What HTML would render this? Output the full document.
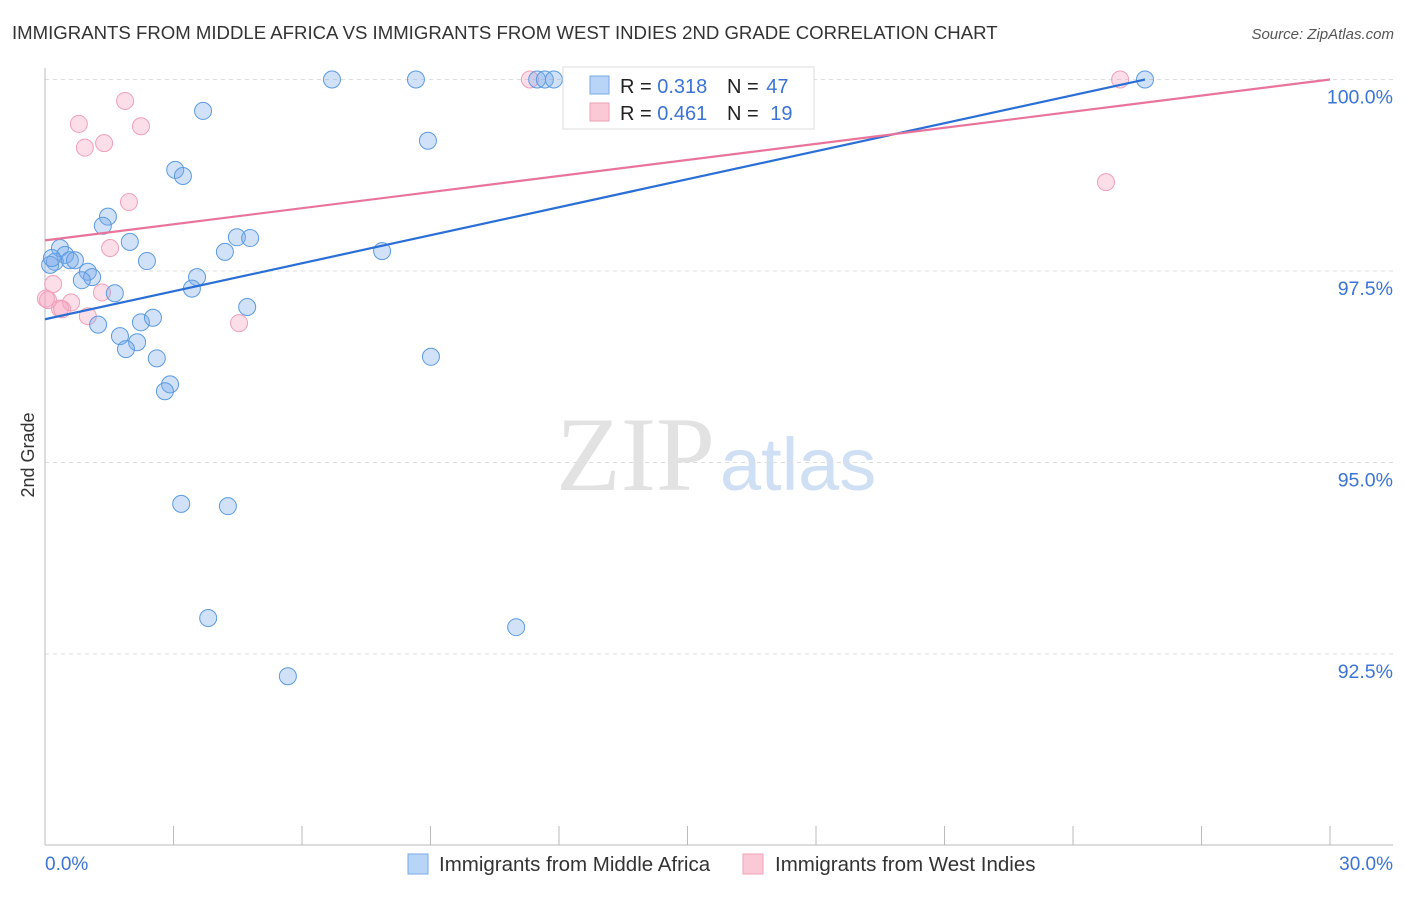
<!DOCTYPE html>
<html><head><meta charset="utf-8"><style>
body{margin:0;background:#fff;font-family:"Liberation Sans",sans-serif}
svg text{font-family:"Liberation Sans",sans-serif}
</style></head><body>
<svg id="chart" width="1406" height="892" xmlns="http://www.w3.org/2000/svg">
<text x="12" y="39" font-size="18.6" fill="#333">IMMIGRANTS FROM MIDDLE AFRICA VS IMMIGRANTS FROM WEST INDIES 2ND GRADE CORRELATION CHART</text>
<text x="1394" y="39" font-size="15" fill="#555" font-style="italic" text-anchor="end">Source: ZipAtlas.com</text>
<text x="715" y="490" font-size="106" fill="#e2e2e2" text-anchor="end" style="font-family:'Liberation Serif',serif">ZIP</text>
<text x="720" y="490" font-size="74" fill="#cfdff4">atlas</text>
<text transform="translate(34,455) rotate(-90)" font-size="18" fill="#333" text-anchor="middle">2nd Grade</text>
<g id="grid"></g><g id="axes"></g><g id="pts"></g><g id="lines"></g>
<g>
<rect x="563" y="67" width="251" height="62" fill="#fff" stroke="#ddd"/>
<rect x="590" y="76" width="19" height="18" fill="#b8d4f6" stroke="#7aaae8"/>
<rect x="590" y="103" width="19" height="18" fill="#fbc8d6" stroke="#f0a0b8"/>
<text x="620" y="93" font-size="20" fill="#222">R = <tspan fill="#3b74d4">0.318</tspan></text>
<text x="727" y="93" font-size="20" fill="#222">N = <tspan fill="#3b74d4" dx="2">47</tspan></text>
<text x="620" y="120" font-size="20" fill="#222">R = <tspan fill="#3b74d4">0.461</tspan></text>
<text x="727" y="120" font-size="20" fill="#222">N = <tspan fill="#3b74d4" dx="6">19</tspan></text>
</g>
<g>
<rect x="408" y="854" width="20" height="20" fill="#b8d4f6" stroke="#7aaae8"/>
<text x="439" y="871" font-size="20.5" fill="#333">Immigrants from Middle Africa</text>
<rect x="743" y="854" width="20" height="20" fill="#fbc8d6" stroke="#f0a0b8"/>
<text x="775" y="871" font-size="20.5" fill="#333">Immigrants from West Indies</text>
</g>
</svg>
<script>
const blueX=[6.70,8.66,11.49,11.67,11.88,25.68,3.69,8.94,3.04,3.22,1.47,1.35,1.98,4.48,4.79,4.20,7.87,2.38,0.35,0.47,0.23,0.58,0.70,0.12,0.16,1.00,1.10,0.86,3.55,3.43,1.63,4.72,1.24,2.24,2.52,1.75,2.15,1.89,2.61,9.01,2.92,2.80,3.18,4.27,3.81,11.00,5.67];
const blueY=[100,100,100,100,100,100,99.59,99.20,98.82,98.74,98.21,98.09,97.88,97.94,97.93,97.75,97.76,97.63,97.80,97.71,97.62,97.64,97.64,97.58,97.67,97.49,97.42,97.38,97.42,97.27,97.21,97.03,96.80,96.83,96.89,96.65,96.57,96.48,96.36,96.38,96.02,95.93,94.46,94.43,92.97,92.85,92.21];
const pinkX=[11.32,25.10,1.87,0.79,2.24,1.38,0.93,1.96,24.77,1.52,0.19,1.33,0.61,0.02,0.35,1.00,4.53,0.40,0.07];
const pinkY=[100,100,99.72,99.42,99.39,99.17,99.11,98.40,98.66,97.80,97.33,97.22,97.09,97.14,97.01,96.91,96.82,97.00,97.12];
const blueLine=[[0,96.87],[25.68,100]];
const pinkLine=[[0,97.90],[30,100]];
const yTicks=[100,97.5,95,92.5];
const yTickLabels=["100.0%","97.5%","95.0%","92.5%"];
const xTickLabels=["0.0%","30.0%"];
const NS="http://www.w3.org/2000/svg";
const sx=v=>45+v*1285/30;
const sy=v=>79.5+(100-v)*76.6;
function mk(tag,attrs,parent){const e=document.createElementNS(NS,tag);for(const k in attrs)e.setAttribute(k,attrs[k]);parent.appendChild(e);return e;}
const grid=document.getElementById('grid'),axes=document.getElementById('axes'),pts=document.getElementById('pts'),lines=document.getElementById('lines');
yTicks.forEach((t,i)=>{
 const l=mk('line',{x1:45,x2:1393,y1:sy(t),y2:sy(t),stroke:'#ddd','stroke-dasharray':'4,4'},grid);
 
 
 const tx=mk('text',{x:1393,y:sy(t)+24,'font-size':19.5,fill:'#3b74d4','text-anchor':'end'},grid);
 tx.textContent=yTickLabels[i];
 
 
});
const ya=mk('line',{x1:45,x2:45,y1:68,y2:845,stroke:'#bbb'},axes);


const xa=mk('line',{x1:45,x2:1393,y1:845,y2:845,stroke:'#bbb'},axes);


for(let i=0;i<=10;i++){
 const t=mk('line',{x1:sx(i*3),x2:sx(i*3),y1:826,y2:845,stroke:'#bbb'},axes);
 
 
}
[[0,'start',45],[30,'end',1393]].forEach((a,i)=>{
 const tx=mk('text',{x:a[2],y:870,'font-size':19,fill:'#3b74d4','text-anchor':a[1]},axes);
 tx.textContent=xTickLabels[i];
 
 
});
function dots(X,Y,fill,stroke,name){X.forEach((x,i)=>{
 const c=mk('circle',{cx:sx(x),cy:sy(Y[i]),r:8.5,fill:fill,stroke:stroke,'stroke-width':1},pts);
 
 
});}
dots(pinkX,pinkY,'rgba(246,160,188,0.35)','#f0a0b8','point-west-indies');
dots(blueX,blueY,'rgba(120,170,235,0.35)','#5b9be0','point-middle-africa');
function ln(L,col,name){
 const l=mk('line',{x1:sx(L[0][0]),y1:sy(L[0][1]),x2:sx(L[1][0]),y2:sy(L[1][1]),stroke:col,'stroke-width':2.2},lines);
 
 
}
ln(blueLine,'#2a6fd6','trend-line-middle-africa');
ln(pinkLine,'#e8749a','trend-line-west-indies');
</script>
</body></html>
